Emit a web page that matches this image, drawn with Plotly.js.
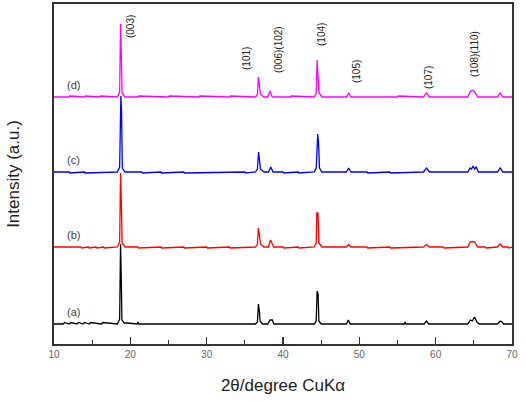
<!DOCTYPE html>
<html>
<head>
<meta charset="utf-8">
<script src="https://cdn.plot.ly/plotly-3.0.1.min.js"></script>
<style>html,body{margin:0;padding:0;background:#fff;}#chart{width:526px;height:403px;}</style>
</head>
<body>
<div id="chart"></div>
<script>
// 2θ (degrees) and relative intensity for each sample
const twoThetaA = [10,11.2,11.4,12,12.2,13,13.2,13.8,14,14.6,14.8,16.2,16.4,18.3,18.6,18.72,18.8,18.9,19.2,19.6,20.9,21.0,21.1,36.4,36.65,36.78,36.9,37.0,37.3,38.0,38.3,38.6,38.8,44.1,44.35,44.47,44.6,44.7,45.0,48.3,48.55,48.8,55.9,56.0,56.1,58.5,58.8,59.1,64.2,64.55,64.8,65.1,65.4,65.7,68.1,68.45,68.7,68.9,70];
const intensityA = [0,0,1.5,0,1.5,0,1.5,0,1.5,0,1.5,0,1.5,0,5,80,50,4,1,1,0,2,0,0,2,20,13,3,0,0,4,4,0,0,3,33,30,3,0,0,4,0,0,2,0,0,3,0,0,4,3,7,2,0,0,3,2,0,0];

const twoThetaB = [10,13.5,13.6,14.5,14.6,15.5,15.6,16.5,16.6,18.3,18.6,18.72,18.82,18.92,19.3,21,21.1,24,24.1,27,27.1,30,30.1,33,33.1,36.4,36.65,36.78,36.9,37.05,37.5,38.1,38.35,38.5,38.8,40,40.1,42,42.1,44.1,44.35,44.43,44.58,44.7,45.1,48.3,48.6,48.9,51,51.1,54,54.1,58.4,58.8,59.2,61,61.1,64.2,64.5,64.8,65.1,65.5,66.5,66.6,68.1,68.45,68.8,69.5,69.6,70];
const intensityB = [0,0,-1,0,-1,0,-1,0,-1,0,5,74,45,4,0,0,-1,0,-1,0,-1,0,-1,0,-1,0,3,19,13,3,0,0,7,4,0,0,-1,0,-1,0,4,34,34,4,0,0,2.5,0,0,-1,0,-1,0,2.5,0,0,-1,0,5,5.5,5,0,0,-1,0,3,0,0,-1,0];

const twoThetaC = [10,12,12.1,14,14.1,18.3,18.6,18.76,18.85,18.95,19.3,21.5,21.6,24,24.1,27,27.1,35,35.1,36.4,36.65,36.8,36.9,37.05,37.5,38.1,38.4,38.7,40,40.1,42,42.1,44.1,44.35,44.55,44.65,44.78,45.1,48.3,48.6,48.9,51,51.1,54,54.1,58.4,58.8,59.2,64.2,64.5,64.7,64.9,65.1,65.3,65.6,68.1,68.45,68.8,70];
const intensityC = [0,0,-1,0,-1,0,5,76,60,4,0,0,-1,0,-1,0,-1,0,-1,0,3,20,13,3,0,0,5,0,0,-1,0,-1,0,4,38,30,4,0,0,4,0,0,-1,0,-1,0,4,0,0,4,3,6,3,5,0,0,4,0,0];

const twoThetaD = [10,12,12.1,14,14.1,16,16.1,18.3,18.6,18.72,18.82,18.92,19.3,21,21.1,25,25.1,29,29.1,33,33.1,36.4,36.65,36.78,36.9,37.05,37.5,38.0,38.3,38.6,41,41.1,44.1,44.35,44.47,44.6,44.72,45.1,48.3,48.6,48.9,55,55.1,58.4,58.8,59.2,64.2,64.5,64.8,65.1,65.5,68.1,68.45,68.8,70];
const intensityD = [0,0,1,0,1,0,1,0,5,73,40,4,0,0,1,0,1,0,1,0,1,0,3,20,12,3,0,0,6,0,0,1,0,4,37,24,4,0,0,4,0,0,1,0,4,0,0,5,7,5,0,0,4,0,0];

const sampleLabels = ['(a)','(b)','(c)','(d)'];
const offsets = [20, 97, 172, 247];
const colors = ['#000000','#ff0000','#0000ff','#ff00ff'];

const hklLabels = ['(003)','(101)','(006)(102)','(104)','(105)','(107)','(108)(110)'];
const hklX = [19.96, 35.15, 39.35, 44.98, 49.57, 59.0, 65.03];
const hklY = [317, 286, 294, 309, 272, 266, 290];

const xs = [twoThetaA, twoThetaB, twoThetaC, twoThetaD];
const ys = [intensityA, intensityB, intensityC, intensityD];

const traces = xs.map((x, i) => ({
  x: x,
  y: ys[i].map(v => v + offsets[i]),
  type: 'scatter',
  mode: 'lines',
  line: {color: colors[i], width: 1.3},
  hoverinfo: 'skip',
  showlegend: false
}));

const annotations = [];
hklLabels.forEach((t, i) => annotations.push({
  x: hklX[i], y: hklY[i], xref: 'x', yref: 'y', text: t, showarrow: false,
  textangle: -90, font: {family: 'Liberation Sans, Arial, sans-serif', size: 10, color: '#222'}
}));
sampleLabels.forEach((t, i) => annotations.push({
  x: 12.5, y: offsets[i] + 12, xref: 'x', yref: 'y', text: t, showarrow: false,
  font: {family: 'Liberation Sans, Arial, sans-serif', size: 11, color: '#444'}
}));

const layout = {
  width: 526, height: 403,
  margin: {l: 54, r: 14, t: 4, b: 59},
  paper_bgcolor: '#fff', plot_bgcolor: '#fff',
  xaxis: {
    range: [10, 70], dtick: 10, tick0: 10,
    ticks: 'inside', ticklen: 7, tickwidth: 1.2, tickcolor: '#333',
    minor: {dtick: 5, ticks: 'inside', ticklen: 4, tickwidth: 1.2, tickcolor: '#333'},
    showline: true, linecolor: '#333', linewidth: 1.6, mirror: true,
    showgrid: false, zeroline: false,
    tickfont: {family: 'Liberation Sans, Arial, sans-serif', size: 10, color: '#666'},
    title: {text: '2θ/degree CuKα', standoff: 20,
      font: {family: 'Liberation Sans, Arial, sans-serif', size: 17, color: '#222'}}
  },
  yaxis: {
    range: [0, 340],
    showticklabels: false, ticks: '',
    showline: true, linecolor: '#333', linewidth: 1.6, mirror: true,
    showgrid: false, zeroline: false,
    title: {text: 'Intensity (a.u.)', standoff: 28,
      font: {family: 'Liberation Sans, Arial, sans-serif', size: 17, color: '#222'}}
  },
  annotations: annotations
};

Plotly.newPlot('chart', traces, layout, {displayModeBar: false, staticPlot: true});
</script>
</body>
</html>
